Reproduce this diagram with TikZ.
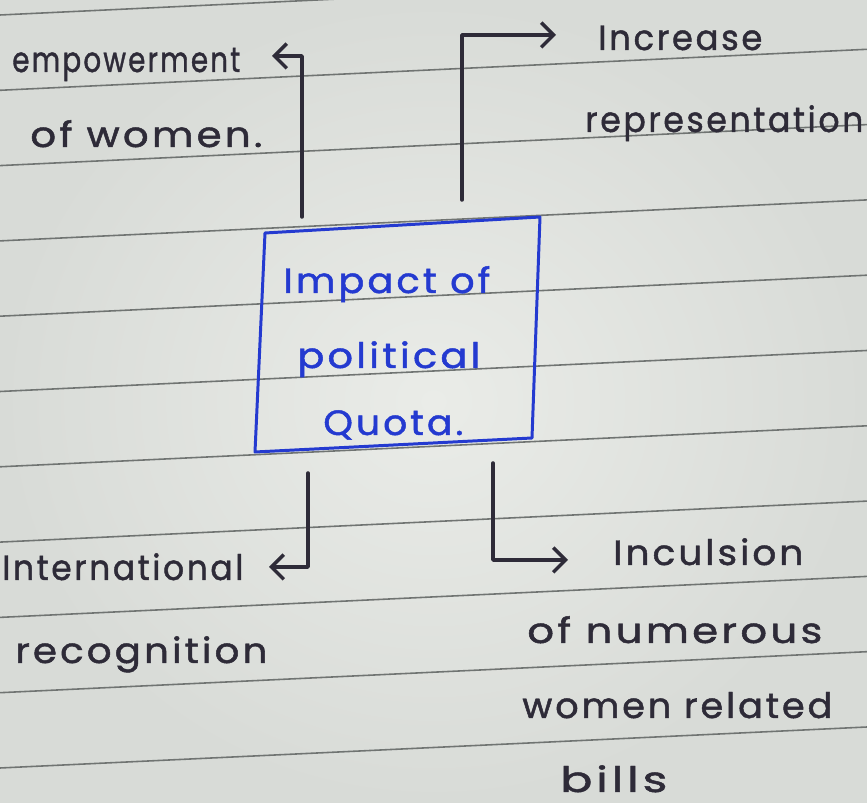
\documentclass[tikz,border=0pt]{standalone}
\usepackage{fontspec}
\setmainfont{Poppins}
\newfontfamily\handfont{Poppins}[FakeBold=1.3]
\usetikzlibrary{arrows.meta,calc}
\newlength\pxu \setlength\pxu{0.02cm}
\newcommand{\hwfit}[2]{\resizebox{#1\pxu}{\height}{\addfontfeature{LetterSpace=8}#2}}
\definecolor{paperA}{RGB}{234,236,232}
\definecolor{paperB}{RGB}{216,219,215}
\definecolor{rulegray}{RGB}{112,116,114}
\definecolor{ink}{RGB}{46,43,56}
\definecolor{bluepen}{RGB}{36,58,208}
\begin{document}
\begin{tikzpicture}[x=0.02cm,y=-0.02cm,
  hw/.style={anchor=base west, inner sep=0pt, text=ink, font=\handfont\fontsize{20pt}{24pt}\selectfont},
  hwb/.style={hw, text=bluepen},
  conn/.style={draw=ink, line width=2pt, line cap=round, line join=round,
    -{Straight Barb[length=7pt,width=14pt,line width=2pt]}},
  ruling/.style={draw=rulegray, line width=0.9pt},
  boxline/.style={draw=bluepen, line width=1.7pt, line join=round}]
\useasboundingbox (0,0) rectangle (867,803);
\shade[inner color=paperA, outer color=paperB] (0,0) rectangle (867,803);
\foreach \k in {0,...,10} {
  \draw[ruling] (0,{15+75.3*\k}) -- (867,{15+75.3*\k-41});
}
% central box (drawn as the photographed quadrilateral)
\coordinate (bTL) at (265,233);
\coordinate (bTR) at (540,217);
\coordinate (bBR) at (532,438);
\coordinate (bBL) at (255,452);
\draw[boxline] (bTL) -- (bTR) -- (bBR) -- (bBL) -- cycle;
\node[hwb] (box1) at (283,293) {\hwfit{207}{Impact of}};
\node[hwb] (box2) at (297,368) {\hwfit{183}{political}};
\node[hwb] (box3) at (323,435) {\hwfit{140}{Quota.}};
% labels
\node[hw] (emp1) at (12,72) {\hwfit{228}{empowerment}};
\node[hw] (emp2) at (30,147) {\hwfit{232}{of women.}};
\node[hw] (inc1) at (598,50) {\hwfit{164}{Increase}};
\node[hw] (inc2) at (585,132) {\hwfit{278}{representation}};
\node[hw] (int1) at (2,580) {\hwfit{241}{International}};
\node[hw] (int2) at (15,663) {\hwfit{252}{recognition}};
\node[hw] (incl1) at (613,565) {\hwfit{190}{Inculsion}};
\node[hw] (incl2) at (527,643) {\hwfit{295}{of numerous}};
\node[hw] (incl3) at (522,718) {\hwfit{310}{women related}};
\node[hw] (incl4) at (560,792) {\hwfit{107}{bills}};
% connector ends
\coordinate (s1) at (302,217); \coordinate (t1) at (272,56);
\coordinate (s2) at (462,200); \coordinate (t2) at (556,35);
\coordinate (s3) at (308,473); \coordinate (t3) at (269,567);
\coordinate (s4) at (493,463); \coordinate (t4) at (568,560);
\draw[conn] (s1) |- (t1);
\draw[conn] (s2) |- (t2);
\draw[conn] (s3) |- (t3);
\draw[conn] (s4) |- (t4);
\end{tikzpicture}
\end{document}
